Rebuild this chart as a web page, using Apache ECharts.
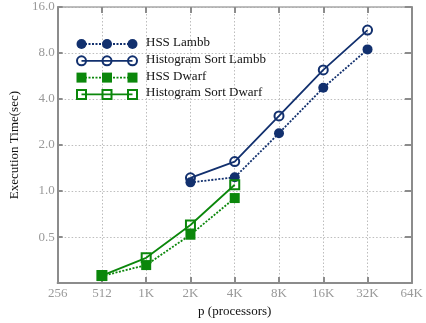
<!DOCTYPE html>
<html>
<head>
<meta charset="utf-8">
<script src="https://cdn.jsdelivr.net/npm/echarts@6/dist/echarts.min.js"></script>
<style>
  html, body { margin: 0; padding: 0; background: #fff; }
  #chart { width: 426px; height: 323px; }
</style>
</head>
<body>
<div id="chart"></div>
<script>
// Processor counts (x) and execution times in seconds (y)
const xTickValues = [256, 512, 1024, 2048, 4096, 8192, 16384, 32768, 65536];
const xTickLabels = ['256', '512', '1K', '2K', '4K', '8K', '16K', '32K', '64K'];
const yTickValues = [0.25, 0.5, 1, 2, 4, 8, 16];
const yTickLabels = ['', '0.5', '1.0', '2.0', '4.0', '8.0', '16.0'];

const lambbProcs = [2048, 4096, 8192, 16384, 32768];
const hssLambb = [1.14, 1.23, 2.39, 4.74, 8.45];
const histLambb = [1.22, 1.56, 3.1, 6.2, 11.3];

const dwarfProcs = [512, 1024, 2048, 4096];
const hssDwarf = [0.278, 0.328, 0.518, 0.90];
const histDwarf = [0.28, 0.366, 0.60, 1.10];

const seriesNames = ['HSS Lambb', 'Histogram Sort Lambb', 'HSS Dwarf', 'Histogram Sort Dwarf'];

const BLUE = '#12306e';
const GREEN = '#0b870b';
const FONT = 'Liberation Serif';
const FONT_SIZE = 13;

function pairs(xs, ys) { return xs.map((x, i) => [x, ys[i]]); }

// Line series styles: filled marker + dotted line, or hollow marker + solid line
const styles = [
  { color: BLUE,  symbol: 'circle', filled: true },
  { color: BLUE,  symbol: 'circle', filled: false },
  { color: GREEN, symbol: 'rect',   filled: true },
  { color: GREEN, symbol: 'rect',   filled: false }
];
const seriesData = [
  pairs(lambbProcs, hssLambb),
  pairs(lambbProcs, histLambb),
  pairs(dwarfProcs, hssDwarf),
  pairs(dwarfProcs, histDwarf)
];

const series = seriesNames.map((name, i) => {
  const s = styles[i];
  return {
    name: name,
    type: 'line',
    data: seriesData[i],
    symbol: s.symbol,
    symbolSize: s.filled ? 10 : 9,
    z: i < 2 ? 3 : 4,
    lineStyle: {
      color: s.color,
      width: 1.8,
      type: s.filled ? [2, 1.5] : 'solid'
    },
    itemStyle: s.filled
      ? { color: s.color, borderColor: s.color, borderWidth: 0 }
      : { color: 'rgba(255,255,255,0)', borderColor: s.color, borderWidth: 2 },
    emphasis: { disabled: true },
    animation: false
  };
});

// Legend drawn as a row of three markers on a line, plus the series name
const legendGraphics = [];
const legendX = [81.5, 107, 132.5];
const legendY0 = 44, legendDy = 16.8;
seriesNames.forEach((name, i) => {
  const s = styles[i];
  const y = legendY0 + i * legendDy;
  legendGraphics.push({
    type: 'line',
    shape: { x1: legendX[0], y1: y, x2: legendX[2], y2: y },
    style: { stroke: s.color, lineWidth: 1.8, lineDash: s.filled ? [2, 1.5] : null },
    z: 10
  });
  legendX.forEach(x => {
    const st = s.filled
      ? { fill: s.color, stroke: null }
      : { fill: 'rgba(255,255,255,0)', stroke: s.color, lineWidth: 2 };
    if (s.symbol === 'circle') {
      legendGraphics.push({ type: 'circle', shape: { cx: x, cy: y, r: s.filled ? 5 : 4.5 }, style: st, z: 11 });
    } else {
      const h = s.filled ? 5 : 4.5;
      legendGraphics.push({ type: 'rect', shape: { x: x - h, y: y - h, width: 2 * h, height: 2 * h }, style: st, z: 11 });
    }
  });
  legendGraphics.push({
    type: 'text',
    left: 146, top: y - 8,
    style: { text: name, font: FONT_SIZE + 'px "' + FONT + '"', fill: '#111', textVerticalAlign: 'top' },
    z: 11
  });
});

const xLabel = v => { const k = xTickValues.indexOf(v); return k >= 0 ? xTickLabels[k] : ''; };
const yLabel = v => {
  const k = yTickValues.findIndex(t => Math.abs(t - v) < 1e-9);
  return k >= 0 ? yTickLabels[k] : '';
};

const gridLine = { show: true, lineStyle: { color: '#bdbdbd', type: [1.5, 2], width: 1 } };
const labelStyle = { color: '#999999', fontFamily: FONT, fontSize: FONT_SIZE };

const option = {
  animation: false,
  grid: { left: 55.5, right: 13, top: 7, bottom: 38.5, containLabel: false },
  xAxis: [
    {
      type: 'log', logBase: 2, min: 256, max: 65536,
      axisLine: { show: true, lineStyle: { color: '#8c8c8c', width: 2 } },
      axisTick: { show: true, inside: true, length: 6, lineStyle: { color: '#8c8c8c', width: 2 } },
      axisLabel: Object.assign({ formatter: xLabel, margin: 4 }, labelStyle),
      splitLine: gridLine,
      name: 'p (processors)', nameLocation: 'middle', nameGap: 15,
      nameTextStyle: { color: '#111', fontFamily: FONT, fontSize: FONT_SIZE }
    },
    {
      type: 'log', logBase: 2, min: 256, max: 65536, position: 'top',
      axisLine: { show: true, lineStyle: { color: '#a8a8a8', width: 1.5 } },
      axisTick: { show: true, inside: true, length: 6, lineStyle: { color: '#8c8c8c', width: 2 } },
      axisLabel: { show: false },
      splitLine: { show: false }
    }
  ],
  yAxis: [
    {
      type: 'log', logBase: 2, min: 0.25, max: 16,
      axisLine: { show: true, lineStyle: { color: '#8c8c8c', width: 2 } },
      axisTick: { show: true, inside: true, length: 5, lineStyle: { color: '#8c8c8c', width: 2 } },
      axisLabel: Object.assign({ formatter: yLabel, margin: 3 }, labelStyle),
      splitLine: gridLine,
      name: 'Execution Time(sec)', nameLocation: 'middle', nameGap: 29,
      nameTextStyle: { color: '#111', fontFamily: FONT, fontSize: FONT_SIZE }
    },
    {
      type: 'log', logBase: 2, min: 0.25, max: 16, position: 'right',
      axisLine: { show: true, lineStyle: { color: '#8c8c8c', width: 2 } },
      axisTick: { show: true, inside: true, length: 7, lineStyle: { color: '#8c8c8c', width: 2 } },
      axisLabel: { show: false },
      splitLine: { show: false }
    }
  ],
  series: series,
  graphic: legendGraphics
};

const chart = echarts.init(document.getElementById('chart'), null, { renderer: 'canvas' });
chart.setOption(option);
</script>
</body>
</html>
